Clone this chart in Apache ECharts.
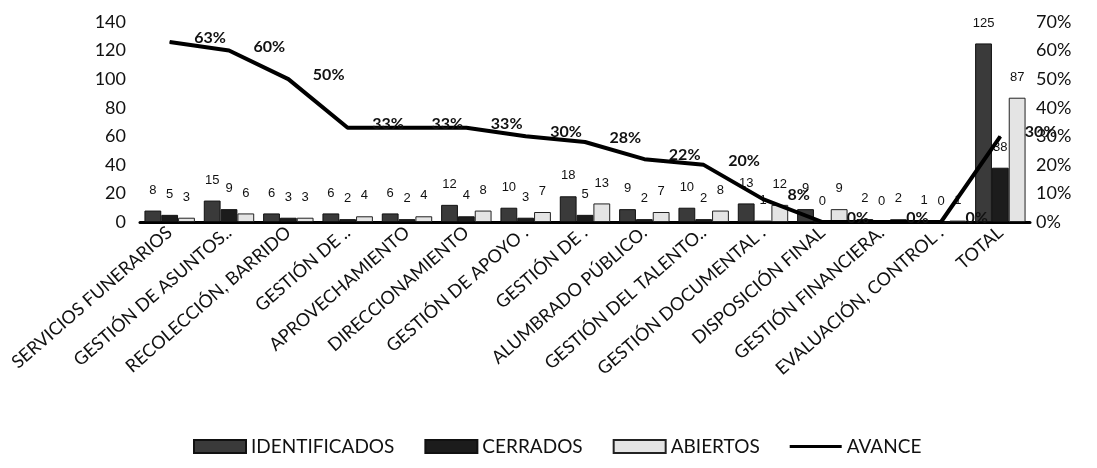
<!DOCTYPE html>
<html>
<head>
<meta charset="utf-8">
<script src="https://cdn.jsdelivr.net/npm/echarts@6/dist/echarts.min.js"></script>
<style>html,body{margin:0;padding:0;background:#fff;}#c{width:1097px;height:468px;}</style>
</head>
<body>
<div id="c"></div>
<script>
var categories = ['SERVICIOS FUNERARIOS','GESTIÓN DE ASUNTOS..','RECOLECCIÓN, BARRIDO','GESTIÓN DE ..','APROVECHAMIENTO','DIRECCIONAMIENTO','GESTIÓN DE APOYO .','GESTIÓN DE .','ALUMBRADO PÚBLICO.','GESTIÓN DEL TALENTO..','GESTIÓN DOCUMENTAL .','DISPOSICIÓN FINAL','GESTIÓN FINANCIERA.','EVALUACIÓN, CONTROL .','TOTAL'];
var identificados = [8,15,6,6,6,12,10,18,9,10,13,9,2,1,125];
var cerrados = [5,9,3,2,2,4,3,5,2,2,1,0,0,0,38];
var abiertos = [3,6,3,4,4,8,7,13,7,8,12,9,2,1,87];
var avance = [63,60,50,33,33,33,30,28,22,20,8,0,0,0,30];

var chart = echarts.init(document.getElementById('c'));
var barLabel = {show:true, position:'top', distance:14, color:'#111', fontFamily:'Liberation Sans', fontSize:13};
chart.setOption({
  animation:false,
  textStyle:{fontFamily:'Lato'},
  grid:{left:140, right:67, top:22, bottom:246},
  legend:{
    top:432, left:188, itemGap:30, itemWidth:52, itemHeight:13,
    textStyle:{fontFamily:'Lato', fontSize:19, color:'#111'},
    data:[{name:'IDENTIFICADOS', icon:'rect'},{name:'CERRADOS', icon:'rect'},{name:'ABIERTOS', icon:'rect'},{name:'AVANCE', icon:'path://M0 0 H52 V3 H0 Z'}]
  },
  xAxis:{
    type:'category', data:categories,
    axisLine:{lineStyle:{color:'#000', width:3}},
    axisTick:{show:false},
    axisLabel:{rotate:41, interval:0, fontFamily:'Lato', fontSize:18, color:'#111', margin:8}
  },
  yAxis:[
    {type:'value', min:0, max:140, interval:20, splitLine:{show:false}, axisLine:{show:false}, axisTick:{show:false},
     axisLabel:{fontFamily:'Lato', fontSize:18, color:'#111', margin:14}},
    {type:'value', min:0, max:70, interval:10, splitLine:{show:false}, axisLine:{show:false}, axisTick:{show:false},
     axisLabel:{fontFamily:'Lato', fontSize:18, color:'#111', margin:6, formatter:'{value}%'}}
  ],
  series:[
    {name:'IDENTIFICADOS', type:'bar', data:identificados, barGap:'0%', barCategoryGap:'15%',
     itemStyle:{color:'#3a3a3a', borderColor:'#111', borderWidth:1}, label:barLabel},
    {name:'CERRADOS', type:'bar', data:cerrados,
     itemStyle:{color:'#1c1c1c', borderColor:'#111', borderWidth:1}, label:barLabel},
    {name:'ABIERTOS', type:'bar', data:abiertos,
     itemStyle:{color:'#e4e4e4', borderColor:'#222', borderWidth:1}, label:barLabel},
    {name:'AVANCE', type:'line', yAxisIndex:1, data:avance, z:5,
     symbol:'circle', symbolSize:1, itemStyle:{color:'#000'},
     lineStyle:{color:'#000', width:4},
     label:{show:true, position:'right', distance:24, offset:[0,-4], fontFamily:'Lato', fontWeight:'bold', fontSize:16, color:'#111', formatter:'{c}%'}}
  ]
});
</script>
</body>
</html>
